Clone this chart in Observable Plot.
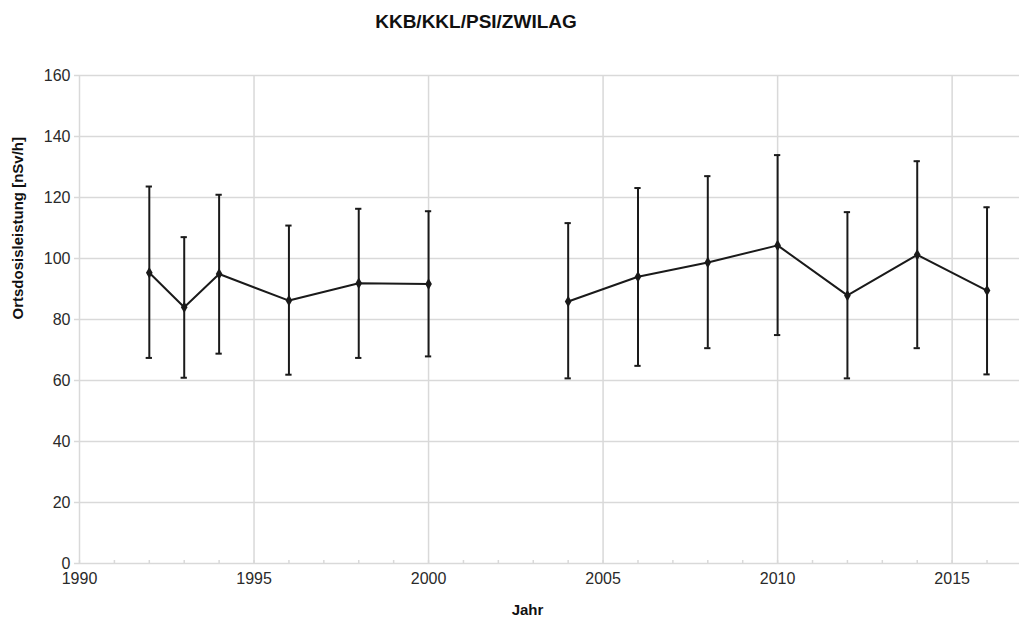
<!DOCTYPE html>
<html>
<head>
<meta charset="utf-8">
<script src="https://cdn.jsdelivr.net/npm/d3@7"></script>
<script src="https://cdn.jsdelivr.net/npm/@observablehq/plot@0.6"></script>
<style>
  html, body { margin: 0; padding: 0; background: #fff; }
  body { width: 1019px; height: 628px; overflow: hidden; font-family: "Liberation Sans", Arial, sans-serif; }
  #title { width: 952px; height: 40px; line-height: 44px; text-align: center; font-weight: bold; font-size: 19px; color: #111; }
</style>
</head>
<body>
<div id="title">KKB/KKL/PSI/ZWILAG</div>
<div id="chart"></div>
<script>
const years = [1992, 1993, 1994, 1996, 1998, 2000, 2004, 2006, 2008, 2010, 2012, 2014, 2016];
const means = [95.3, 84.0, 94.9, 86.2, 91.9, 91.6, 85.9, 94.0, 98.7, 104.3, 87.9, 101.2, 89.5];
const upper = [123.6, 107.0, 120.9, 110.8, 116.3, 115.5, 111.6, 123.1, 127.0, 133.9, 115.2, 131.9, 116.8];
const lower = [67.4, 60.9, 68.8, 61.9, 67.4, 67.9, 60.7, 64.8, 70.6, 74.9, 60.7, 70.6, 62.0];
const segment = ["a", "a", "a", "a", "a", "a", "b", "b", "b", "b", "b", "b", "b"];
const xTicks = [1990, 1995, 2000, 2005, 2010, 2015];
const xMinor = d3.range(1990, 2017);
const yTicks = [0, 20, 40, 60, 80, 100, 120, 140, 160];
const yLabel = "Ortsdosisleistung [nSv/h]";
const xLabel = "Jahr";

const data = years.map((y, i) => ({year: y, mean: means[i], hi: upper[i], lo: lower[i], seg: segment[i]}));
const grid = "#d9d9d9";
const ink = "#1a1a1a";
const capHalf = 0.09;

const chart = Plot.plot({
  width: 1019,
  height: 588,
  marginLeft: 79,
  marginRight: 0,
  marginTop: 35,
  marginBottom: 65,
  style: {fontFamily: "Liberation Sans, Arial, sans-serif", background: "#fff"},
  x: {domain: [1990, 2016.93], label: null},
  y: {domain: [0, 160], label: null},
  marks: [
    Plot.gridX(xTicks, {stroke: grid, strokeOpacity: 1, strokeWidth: 1.5}),
    Plot.gridY(yTicks, {stroke: grid, strokeOpacity: 1, strokeWidth: 1.5}),
    Plot.axisX(xMinor, {tickSize: -3, text: null, label: null, stroke: grid, strokeOpacity: 1, strokeWidth: 1.5}),
    Plot.axisX(xTicks, {tickSize: 0, tickPadding: 9, tickFormat: d => String(d), fontSize: 16, fill: "#2a2a2a", label: null}),
    Plot.axisY(yTicks, {tickSize: 5, tickPadding: 4, stroke: grid, strokeOpacity: 1, strokeWidth: 1.5, fontSize: 16, fill: "#2a2a2a", label: null}),
    Plot.ruleX(data, {x: "year", y1: "lo", y2: "hi", stroke: ink, strokeWidth: 2}),
    Plot.ruleY(data, {y: "hi", x1: d => d.year - capHalf, x2: d => d.year + capHalf, stroke: ink, strokeWidth: 2}),
    Plot.ruleY(data, {y: "lo", x1: d => d.year - capHalf, x2: d => d.year + capHalf, stroke: ink, strokeWidth: 2}),
    Plot.line(data, {x: "year", y: "mean", z: "seg", stroke: ink, strokeWidth: 2}),
    Plot.dot(data, {x: "year", y: "mean", symbol: "diamond", r: 3.5, fill: ink, stroke: "none"}),
    Plot.text([yLabel], {frameAnchor: "left", rotate: -90, dx: -61, fontSize: 15, fontWeight: "bold", fill: "#111"}),
    Plot.text([xLabel], {frameAnchor: "bottom", lineAnchor: "middle", dy: 47, dx: -22, fontSize: 15, fontWeight: "bold", fill: "#111"})
  ]
});
document.getElementById("chart").appendChild(chart);
</script>
</body>
</html>
